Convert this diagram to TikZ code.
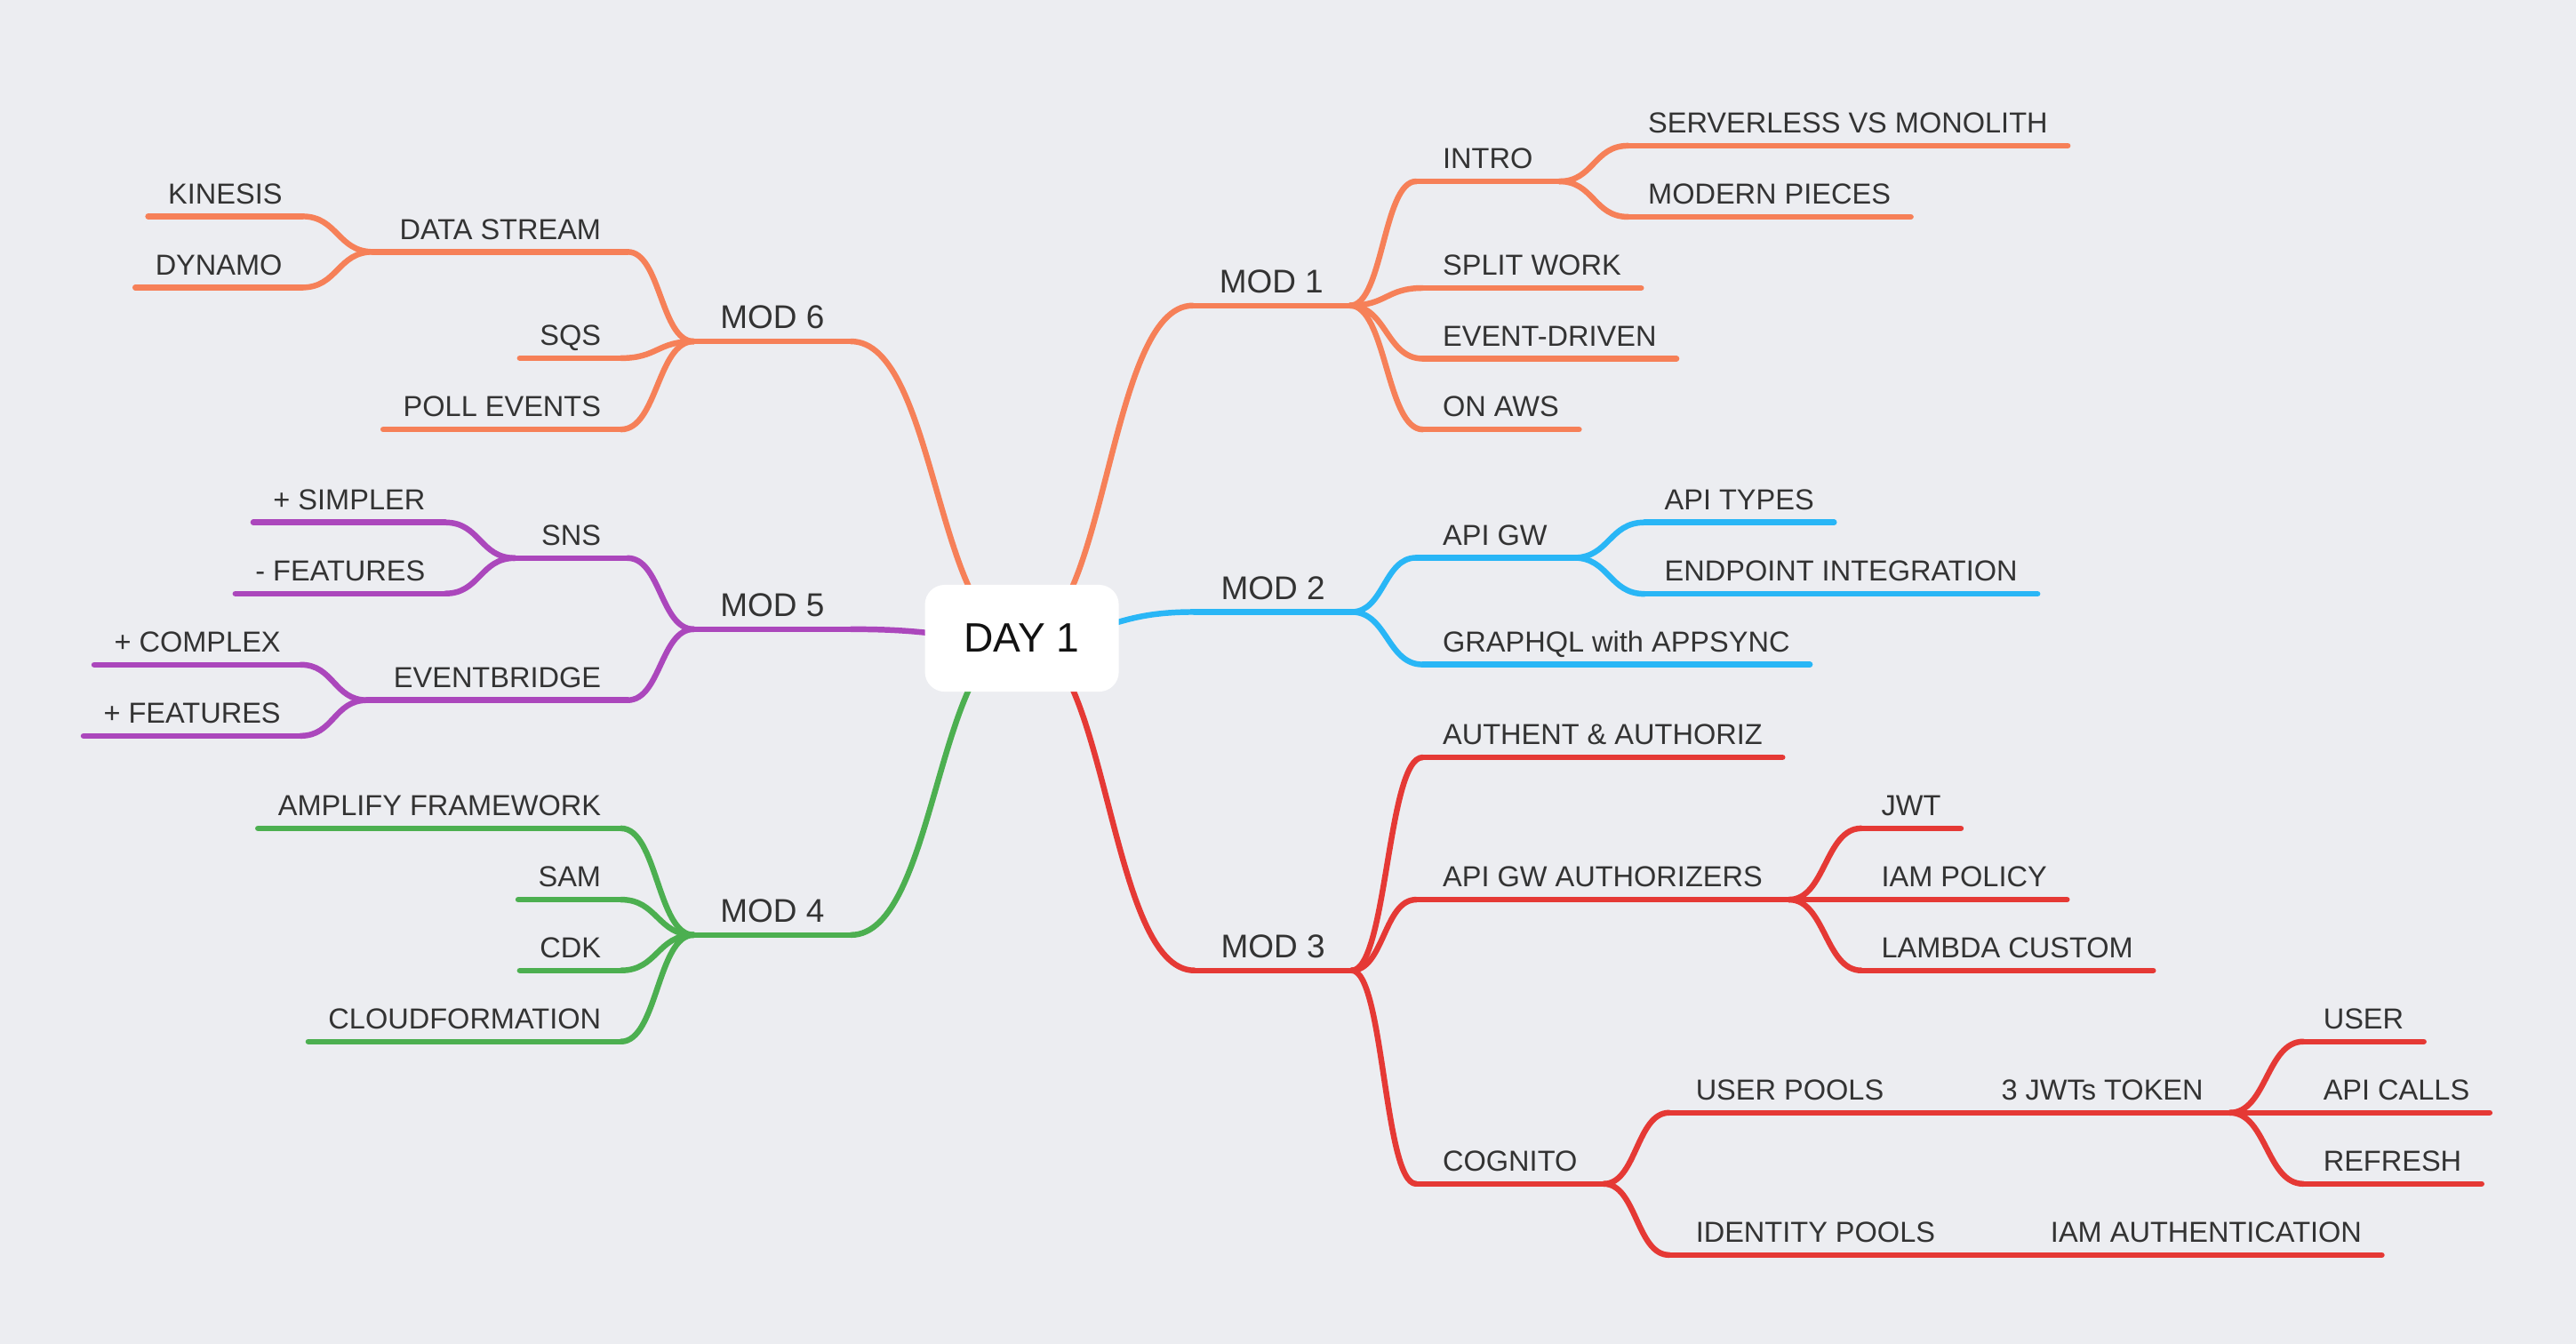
\documentclass[tikz,border=0pt]{standalone}
\usepackage{fontspec}
\setmainfont{Liberation Sans}
\usetikzlibrary{calc}
\definecolor{bgc}{RGB}{236,237,241}
\definecolor{txt}{RGB}{51,51,51}
\definecolor{corange}{RGB}{246,128,88}
\definecolor{cblue}{RGB}{41,182,246}
\definecolor{cred}{RGB}{229,57,53}
\definecolor{cpurple}{RGB}{171,71,188}
\definecolor{cgreen}{RGB}{76,175,80}
\pgfdeclarelayer{bg}
\pgfsetlayers{bg,main}
\tikzset{
  lbl/.style={font=\fontsize{17.6}{20}\selectfont, text=txt, inner ysep=0pt, text height=12pt, text depth=7.5pt},
  leafR/.style={lbl, inner xsep=12pt, anchor=south west},
  parR/.style={lbl, inner xsep=16pt, anchor=south west},
  leafL/.style={lbl, inner xsep=12pt, anchor=south east},
  parL/.style={lbl, inner xsep=16pt, anchor=south east},
  modR/.style={parR, font=\fontsize{20}{24}\selectfont},
  modL/.style={parL, font=\fontsize{20}{24}\selectfont},
  daybox/.style={fill=white, rounded corners=12pt, minimum width=118pt, minimum height=65pt, inner sep=0pt, font=\fontsize{25}{30}\selectfont, text=black!93},
  conn/.style={line width=3.5pt, line cap=round, line join=round},
  br/.style={to path={let \p1=(\tikztostart), \p2=(\tikztotarget) in .. controls ({0.5*\x1+0.5*\x2},\y1) and ({0.5*\x1+0.5*\x2},\y2) .. (\tikztotarget)}}
}
\begin{document}
\begin{tikzpicture}[x=1pt,y=-1pt]
\useasboundingbox (0,0) rectangle (1568,818);
% centre
\node[daybox] (day) at (622,388.5) {DAY 1};
% MOD 1
\node[modR] (m1) at (726,186) {MOD 1};
\node[parR] (intro) at (862,110.4) {INTRO};
\node[leafR] (svm) at (991,88.7) {SERVERLESS VS MONOLITH};
\node[leafR] (modern) at (991,132) {MODERN PIECES};
\node[leafR] (split) at (866,175.3) {SPLIT WORK};
\node[leafR] (event) at (866,218.3) {EVENT-DRIVEN};
\node[leafR] (onaws) at (866,261.4) {ON AWS};
% MOD 2
\node[modR] (m2) at (727,372.5) {MOD 2};
\node[parR] (apigw) at (862,339.5) {API GW};
\node[leafR] (apitypes) at (1001,318) {API TYPES};
\node[leafR] (endpoint) at (1001,361.5) {ENDPOINT INTEGRATION};
\node[leafR] (graphql) at (866,404.5) {GRAPHQL with APPSYNC};
% MOD 3
\node[modR] (m3) at (727,590.7) {MOD 3};
\node[leafR] (authent) at (866,461) {AUTHENT \& AUTHORIZ};
\node[parR] (gwauth) at (862,547.6) {API GW AUTHORIZERS};
\node[leafR] (jwt) at (1133,504.2) {JWT};
\node[leafR] (iampol) at (1133,547.6) {IAM POLICY};
\node[leafR] (lambda) at (1133,590.7) {LAMBDA CUSTOM};
\node[parR] (cognito) at (862,720.6) {COGNITO};
\node[parR] (userpools) at (1016,677.3) {USER POOLS};
\node[parR] (jwts) at (1202,677.3) {3 JWTs TOKEN};
\node[leafR] (user) at (1402,634) {USER};
\node[leafR] (apicalls) at (1402,677.3) {API CALLS};
\node[leafR] (refresh) at (1402,720.6) {REFRESH};
\node[parR] (idpools) at (1016,763.9) {IDENTITY POOLS};
\node[leafR] (iamauth) at (1236,763.9) {IAM AUTHENTICATION};
% MOD 6
\node[modL] (m6) at (518,207.8) {MOD 6};
\node[parL] (datastream) at (382,153.3) {DATA STREAM};
\node[leafL] (kinesis) at (184,131.7) {KINESIS};
\node[leafL] (dynamo) at (184,175) {DYNAMO};
\node[leafL] (sqs) at (378,218) {SQS};
\node[leafL] (poll) at (378,261.4) {POLL EVENTS};
% MOD 5
\node[modL] (m5) at (518,383) {MOD 5};
\node[parL] (sns) at (382,339.7) {SNS};
\node[leafL] (simpler) at (271,318) {+ SIMPLER};
\node[leafL] (lessfeat) at (271,361.3) {- FEATURES};
\node[parL] (eventbridge) at (382,426.2) {EVENTBRIDGE};
\node[leafL] (complex) at (183,404.6) {+ COMPLEX};
\node[leafL] (morefeat) at (183,447.9) {+ FEATURES};
% MOD 4
\node[modL] (m4) at (518,569.1) {MOD 4};
\node[leafL] (amplify) at (378,504.2) {AMPLIFY FRAMEWORK};
\node[leafL] (sam) at (378,547.6) {SAM};
\node[leafL] (cdk) at (378,590.7) {CDK};
\node[leafL] (cfn) at (378,634) {CLOUDFORMATION};

\begin{pgfonlayer}{bg}
\fill[bgc] (0,0) rectangle (1568,818);
% underlines
\foreach \n in {m1,intro,svm,modern,split,event,onaws,m6,datastream,kinesis,dynamo,sqs,poll}
  \draw[conn,corange] (\n.south west) -- (\n.south east);
\foreach \n in {m2,apigw,apitypes,endpoint,graphql}
  \draw[conn,cblue] (\n.south west) -- (\n.south east);
\foreach \n in {m3,authent,gwauth,jwt,iampol,lambda,cognito,userpools,jwts,user,apicalls,refresh,idpools,iamauth}
  \draw[conn,cred] (\n.south west) -- (\n.south east);
\foreach \n in {m5,sns,simpler,lessfeat,eventbridge,complex,morefeat}
  \draw[conn,cpurple] (\n.south west) -- (\n.south east);
\foreach \n in {m4,amplify,sam,cdk,cfn}
  \draw[conn,cgreen] (\n.south west) -- (\n.south east);
% orange connectors
\draw[conn,corange] (day.center) to[br] (m1.south west);
\draw[conn,corange] (m1.south east) to[br] (intro.south west);
\draw[conn,corange] (intro.south east) to[br] (svm.south west);
\draw[conn,corange] (intro.south east) to[br] (modern.south west);
\draw[conn,corange] (m1.south east) to[br] (split.south west);
\draw[conn,corange] (m1.south east) to[br] (event.south west);
\draw[conn,corange] (m1.south east) to[br] (onaws.south west);
\draw[conn,corange] (day.center) to[br] (m6.south east);
\draw[conn,corange] (m6.south west) to[br] (datastream.south east);
\draw[conn,corange] (datastream.south west) to[br] (kinesis.south east);
\draw[conn,corange] (datastream.south west) to[br] (dynamo.south east);
\draw[conn,corange] (m6.south west) to[br] (sqs.south east);
\draw[conn,corange] (m6.south west) to[br] (poll.south east);
% blue connectors
\draw[conn,cblue] (day.center) to[br] (m2.south west);
\draw[conn,cblue] (m2.south east) to[br] (apigw.south west);
\draw[conn,cblue] (apigw.south east) to[br] (apitypes.south west);
\draw[conn,cblue] (apigw.south east) to[br] (endpoint.south west);
\draw[conn,cblue] (m2.south east) to[br] (graphql.south west);
% red connectors
\draw[conn,cred] (day.center) to[br] (m3.south west);
\draw[conn,cred] (m3.south east) to[br] (authent.south west);
\draw[conn,cred] (m3.south east) to[br] (gwauth.south west);
\draw[conn,cred] (gwauth.south east) to[br] (jwt.south west);
\draw[conn,cred] (gwauth.south east) to[br] (iampol.south west);
\draw[conn,cred] (gwauth.south east) to[br] (lambda.south west);
\draw[conn,cred] (m3.south east) to[br] (cognito.south west);
\draw[conn,cred] (cognito.south east) to[br] (userpools.south west);
\draw[conn,cred] (userpools.south east) -- (jwts.south west);
\draw[conn,cred] (jwts.south east) to[br] (user.south west);
\draw[conn,cred] (jwts.south east) to[br] (apicalls.south west);
\draw[conn,cred] (jwts.south east) to[br] (refresh.south west);
\draw[conn,cred] (cognito.south east) to[br] (idpools.south west);
\draw[conn,cred] (idpools.south east) -- (iamauth.south west);
% purple connectors
\draw[conn,cpurple] (day.center) to[br] (m5.south east);
\draw[conn,cpurple] (m5.south west) to[br] (sns.south east);
\draw[conn,cpurple] (sns.south west) to[br] (simpler.south east);
\draw[conn,cpurple] (sns.south west) to[br] (lessfeat.south east);
\draw[conn,cpurple] (m5.south west) to[br] (eventbridge.south east);
\draw[conn,cpurple] (eventbridge.south west) to[br] (complex.south east);
\draw[conn,cpurple] (eventbridge.south west) to[br] (morefeat.south east);
% green connectors
\draw[conn,cgreen] (day.center) to[br] (m4.south east);
\draw[conn,cgreen] (m4.south west) to[br] (amplify.south east);
\draw[conn,cgreen] (m4.south west) to[br] (sam.south east);
\draw[conn,cgreen] (m4.south west) to[br] (cdk.south east);
\draw[conn,cgreen] (m4.south west) to[br] (cfn.south east);
\end{pgfonlayer}
\end{tikzpicture}
\end{document}
